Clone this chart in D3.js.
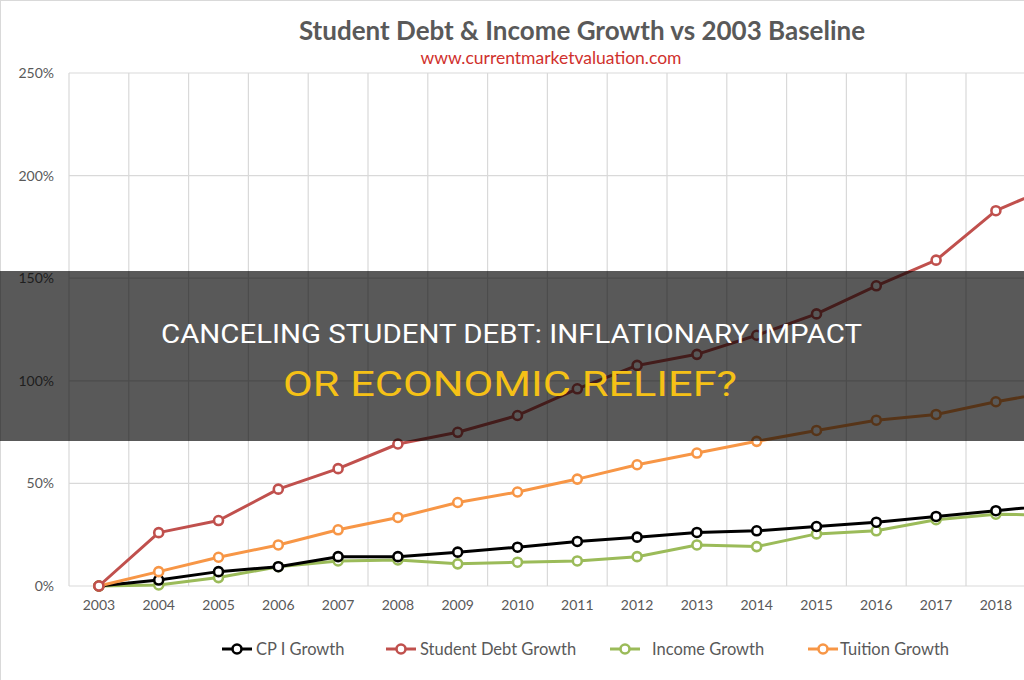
<!DOCTYPE html>
<html>
<head>
<meta charset="utf-8">
<script src="https://cdn.jsdelivr.net/npm/d3@7"></script>
<style>
  html, body { margin: 0; padding: 0; background: #fff; }
  svg { display: block; }
</style>
</head>
<body>
<svg id="chart" width="1024" height="680"></svg>
<script>
// ---- Data ----
const years = ["2003","2004","2005","2006","2007","2008","2009","2010","2011","2012","2013","2014","2015","2016","2017","2018","2019"];
const cpiGrowth      = [0, 2.9, 7.0, 9.4, 14.3, 14.3, 16.5, 18.9, 21.7, 23.8, 26.1, 26.9, 29.0, 31.1, 33.9, 36.7, 39.6];
const studentDebt    = [0, 26.0, 31.9, 47.2, 57.2, 69.2, 74.9, 83.1, 96.1, 107.5, 112.9, 122.2, 132.6, 146.3, 158.8, 182.9, 195.5];
const incomeGrowth   = [0, 0.5, 4.1, 9.4, 12.2, 12.7, 10.8, 11.6, 12.2, 14.3, 20.0, 19.2, 25.4, 26.9, 32.3, 35.0, 34.5];
const tuitionGrowth  = [0, 7.0, 14.0, 20.0, 27.4, 33.4, 40.7, 45.8, 52.1, 59.1, 64.8, 70.5, 75.8, 80.8, 83.6, 89.8, 94.9];
const yTicks = [0, 50, 100, 150, 200, 250];
const seriesNames = ["CP I Growth", "Student Debt Growth", "Income Growth", "Tuition Growth"];
const seriesColors = ["#000000", "#c0504d", "#9bbb59", "#f79646"];
const seriesValues = [cpiGrowth, studentDebt, incomeGrowth, tuitionGrowth];
const chartTitle = "Student Debt & Income Growth vs 2003 Baseline";
const chartSubtitle = "www.currentmarketvaluation.com";
const headline1 = "CANCELING STUDENT DEBT: INFLATIONARY IMPACT";
const headline2 = "OR ECONOMIC RELIEF?";

(function () {
// ---- Layout ----
const svg = d3.select("#chart");
const W = 1024, H = 680;
const plotLeft = 69, plotTop = 73, plotBottom = 586;
const band = 59.8;

const x = d3.scaleBand().domain(years).range([plotLeft, plotLeft + band * years.length]).padding(0);
const y = d3.scaleLinear().domain([0, 250]).range([plotBottom, plotTop]);
const cx = d => x(d) + x.bandwidth() / 2;

const font = "Lato, 'Open Sans', 'Noto Sans', sans-serif";

// outer border
svg.append("rect").attr("x", 0.5).attr("y", 0.5).attr("width", W).attr("height", H)
  .attr("fill", "#fff").attr("stroke", "#d9d9d9");

// gridlines
const grid = svg.append("g");
grid.selectAll("line.h").data(yTicks).join("line")
  .attr("x1", plotLeft).attr("x2", W + 40)
  .attr("y1", d => y(d)).attr("y2", d => y(d))
  .attr("stroke", "#d9d9d9").attr("stroke-width", 1.2);
grid.selectAll("line.v").data(years).join("line")
  .attr("x1", d => x(d)).attr("x2", d => x(d))
  .attr("y1", plotTop).attr("y2", plotBottom)
  .attr("stroke", "#d9d9d9").attr("stroke-width", 1.2);

// y axis labels
const yAxis = d3.axisLeft(y).tickValues(yTicks).tickSize(0).tickPadding(0).tickFormat(d => d + "%");
const gy = svg.append("g").attr("transform", `translate(54,0)`).call(yAxis);
gy.select(".domain").remove();
gy.selectAll("text").attr("fill", "#595959").style("font-family", font).style("font-size", "14px");

// x axis labels (only those whose label fits inside the visible canvas)
const visibleYears = years.filter(d => cx(d) + 20 < W);
const xAxis = d3.axisBottom(x).tickValues(visibleYears).tickSize(0).tickPadding(0);
const gx = svg.append("g").attr("transform", `translate(0,600)`).call(xAxis);
gx.select(".domain").remove();
gx.selectAll("text").attr("fill", "#595959").style("font-family", font).style("font-size", "14px");

// lines
const order = [2, 0, 3, 1];
const line = d3.line().x((d, i) => cx(years[i])).y(d => y(d));
order.forEach(k => {
  const g = svg.append("g");
  g.append("path").datum(seriesValues[k])
    .attr("d", line).attr("fill", "none")
    .attr("stroke", seriesColors[k]).attr("stroke-width", 3).attr("stroke-linejoin", "round");
  g.selectAll("circle").data(seriesValues[k]).join("circle")
    .attr("cx", (d, i) => cx(years[i])).attr("cy", d => y(d)).attr("r", 4.5)
    .attr("fill", "#fff").attr("stroke", seriesColors[k]).attr("stroke-width", 2.6);
});

// title
svg.append("text").attr("x", 582).attr("y", 40).attr("text-anchor", "middle")
  .attr("fill", "#595959").style("font-family", font).style("font-weight", "bold").style("font-size", "26px")
  .text(chartTitle);
svg.append("text").attr("x", 551).attr("y", 64).attr("text-anchor", "middle")
  .attr("fill", "#d0312d").style("font-family", font).style("font-size", "17.5px")
  .text(chartSubtitle);

// legend
const legendX = [222, 386, 610, 808];
const legendTextX = [256, 420, 652, 840];
const ly = 649;
const lg = svg.append("g");
seriesNames.forEach((name, k) => {
  lg.append("line").attr("x1", legendX[k]).attr("x2", legendX[k] + 30).attr("y1", ly).attr("y2", ly)
    .attr("stroke", seriesColors[k]).attr("stroke-width", 3);
  lg.append("circle").attr("cx", legendX[k] + 15).attr("cy", ly).attr("r", 4.5)
    .attr("fill", "#fff").attr("stroke", seriesColors[k]).attr("stroke-width", 2.6);
  lg.append("text").attr("x", legendTextX[k]).attr("y", ly + 5.5)
    .attr("fill", "#595959").style("font-family", font).style("font-size", "16.5px")
    .text(name);
});

// overlay band with headline
svg.append("rect").attr("x", 0).attr("y", 271).attr("width", W).attr("height", 170)
  .attr("fill", "rgba(0,0,0,0.65)");
const hfont = "Roboto, 'Liberation Sans', sans-serif";
svg.append("text").attr("x", 161).attr("y", 342.5)
  .attr("textLength", 701).attr("lengthAdjust", "spacingAndGlyphs")
  .attr("fill", "#ffffff").style("font-family", hfont).style("font-size", "25.5px")
  .text(headline1);
svg.append("text").attr("x", 283).attr("y", 395.5)
  .attr("textLength", 454).attr("lengthAdjust", "spacingAndGlyphs")
  .attr("fill", "#f5c116").style("font-family", hfont).style("font-size", "35px")
  .text(headline2);
})();
</script>
</body>
</html>
